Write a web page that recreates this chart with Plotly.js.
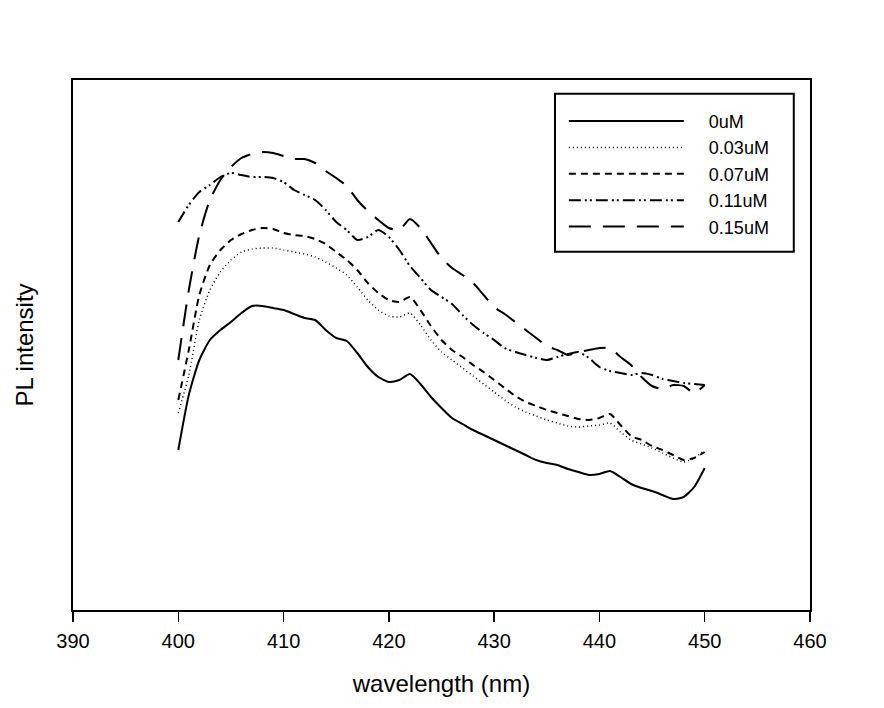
<!DOCTYPE html>
<html>
<head>
<meta charset="utf-8">
<script src="https://cdn.plot.ly/plotly-3.0.1.min.js"></script>
<style>html,body{margin:0;padding:0;background:#fff;}#chart{width:884px;height:708px;}</style>
</head>
<body>
<div id="chart"></div>
<script>
// wavelength (nm)
var wavelength = [400,401,402,403,404,405,406,407,408,409,410,411,412,413,414,415,416,417,418,419,420,421,422,423,424,425,426,427,428,429,430,431,432,433,434,435,436,437,438,439,440,441,442,443,444,445,446,447,448,449,450];

// PL intensity (arbitrary units)
var s0uM   = [160,215,250,270,280,288,297,304,304,302,300,296,292,290,280,272,269,257,243,233,228,230,236,226,213,202,192,186,180,175,170,165,160,155,150,147,145,141,138,135,136,139,133,126,122,119,115,111,113,123,142];
var s003uM = [197,235,290,320,338,350,358,361,362,362,360,358,356,353,348,342,335,323,310,300,294,293,297,285,270,258,250,242,234,226,218,210,203,198,194,190,187,184,183,184,185,187,178,170,166,162,157,152,148,152,160];
var s007uM = [210,260,315,345,360,370,376,380,382,381,377,375,374,371,366,358,350,340,327,317,310,308,313,300,284,270,260,253,245,238,230,222,214,208,204,200,197,194,191,190,192,196,185,174,170,164,160,155,150,152,158];
var s011uM = [388,405,418,425,433,437,435,433,433,432,428,420,415,410,400,388,380,370,373,380,373,360,344,332,320,313,306,295,285,277,270,262,258,255,252,250,253,256,258,252,243,239,237,235,237,235,231,229,227,226,225];
var s015uM = [250,320,375,410,430,443,452,456,458,457,454,451,451,447,439,432,424,410,399,390,382,380,391,382,367,352,342,335,327,315,303,296,288,280,272,264,260,255,258,260,262,262,253,245,233,224,221,225,224,217,225];

var seriesNames = ['0uM','0.03uM','0.07uM','0.11uM','0.15uM'];
var seriesData = [s0uM, s003uM, s007uM, s011uM, s015uM];
var dashes = ['solid','1px,3px','7px,5px','12px,4px,2px,3px,2px,4px','22px,12px'];
var widths = [2,1.5,2,2,2];
var pad = '\u00a0\u00a0\u00a0\u00a0';

var traces = seriesData.map(function(d,i){
  return {x: wavelength, y: d, type:'scatter', mode:'lines', name: pad + seriesNames[i],
    line:{color:'#000', width: widths[i], dash: dashes[i], shape:'spline', smoothing:0.6}};
});

var layout = {
  width: 884, height: 708,
  margin: {l:73, r:74, t:80, b:98},
  paper_bgcolor:'#fff', plot_bgcolor:'#fff',
  font: {family:'"Liberation Sans", Arial, sans-serif', color:'#000', size:20},
  showlegend: true,
  legend: {x:0.666, y:0.957, xanchor:'left', yanchor:'top', bgcolor:'rgba(0,0,0,0)',
    borderwidth:0, font:{size:18}, itemwidth:115, traceorder:'normal'},
  shapes: [{type:'rect', xref:'paper', yref:'paper', x0:0.654, x1:0.978, y0:0.676, y1:0.974,
    line:{color:'#000', width:2}, fillcolor:'rgba(0,0,0,0)', layer:'above'}],
  xaxis: {range:[390,460], dtick:10, tick0:390, showgrid:false, zeroline:false,
    showline:true, linecolor:'#000', linewidth:2, mirror:true,
    ticks:'outside', ticklen:10, tickwidth:1.5, tickcolor:'#000', ticklabelstandoff:2,
    tickfont:{size:20}, title:{text:'wavelength (nm)', font:{size:24}, standoff:24}},
  yaxis: {range:[0,530], showgrid:false, zeroline:false, showticklabels:false,
    ticks:'', showline:true, linecolor:'#000', linewidth:2, mirror:true,
    title:{text:'PL intensity', font:{size:24}, standoff:31}}
};

Plotly.newPlot('chart', traces, layout, {displayModeBar:false, staticPlot:true});
</script>
</body>
</html>
